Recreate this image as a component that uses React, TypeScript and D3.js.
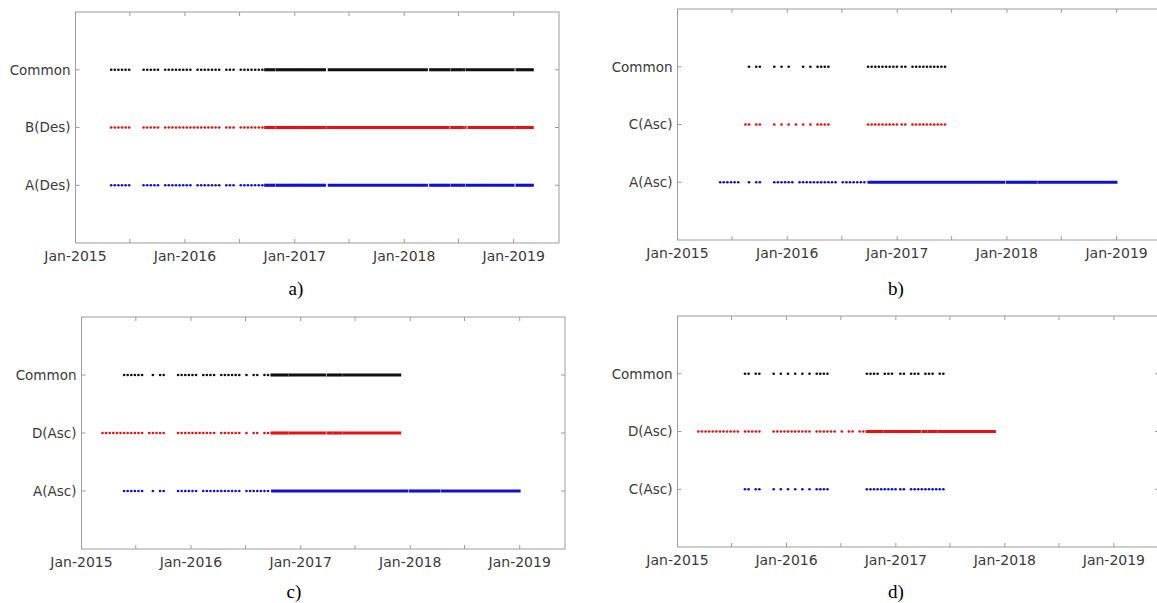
import * as d3 from "d3";
import React from "react";

// acquisition dates are stored as days counted from 1 Jan 2015
const startDate = new Date(2015, 0, 1);
const endDate = new Date(2019, 5, 1);

// descending track A (and the A/B common dates, which are the same)
const aDesDots = [
  119, 131, 143, 155, 167, 179,
  227, 239, 251, 263, 275,
  299, 311, 323, 335, 347, 359, 371, 383,
  407, 419, 431, 443, 455, 467, 479,
  503, 515, 527,
  551, 563, 575, 587, 599, 611, 623,
];
// dense periods (6-day repeat) that print as a solid bar: [first, last]
const aDesSpans = [
  [631, 665], [670, 743], [746, 833], [843, 1173], [1181, 1247],
  [1252, 1287], [1291, 1298], [1303, 1462], [1469, 1526],
];
const commonABDots = aDesDots;
const commonABSpans = aDesSpans;

const bDesDots = [
  119, 131, 143, 155, 167, 179,
  227, 239, 251, 263, 275,
  299, 311, 323, 335, 347, 359, 371, 383, 395, 407, 419, 431, 443, 455, 467, 479,
  503, 515, 527,
  551, 563, 575, 587, 599, 611, 623,
];
const bDesSpans = [
  [631, 665], [670, 743], [746, 833], [838, 1245], [1251, 1293],
  [1298, 1302], [1309, 1465], [1469, 1526],
];

// ascending tracks
const aAscDots = [
  142, 154, 166, 178, 190, 202,
  238,
  262, 274,
  322, 334, 346, 358, 370, 382,
  406, 418, 430, 442, 454, 466, 478, 490, 502, 514, 526,
  550, 562, 574, 586, 598, 610, 622,
];
const aAscSpans = [[634, 1088], [1094, 1194], [1199, 1462]];

const cAscDots = [
  226, 238, 262, 274,
  322, 346, 370, 394, 418, 442,
  466, 478, 490, 502,
  634, 646, 658, 670, 682, 694, 706, 718, 730,
  746, 758,
  782, 794, 806, 818, 830, 842, 854, 866, 878, 890,
];

const dAscDots = [
  70, 82, 94, 106, 118, 130, 142, 154, 166, 178, 190, 202,
  226, 238, 250, 262, 274,
  322, 334, 346, 358, 370, 382, 394, 406, 418, 430, 442,
  466, 478, 490, 502, 514, 526,
  550, 574, 586, 610, 622,
];
const dAscSpans = [[632, 688], [692, 814], [820, 834], [838, 868], [872, 1064]];

const commonACDots = [
  238, 262, 274,
  322, 346, 370, 418, 442,
  466, 478, 490, 502,
  634, 646, 658, 670, 682, 694, 706, 718, 730,
  746, 758,
  782, 794, 806, 818, 830, 842, 854, 866, 878, 890,
];

const commonADDots = [
  142, 154, 166, 178, 190, 202,
  238, 262, 274,
  322, 334, 346, 358, 370, 382,
  406, 418, 430, 442,
  466, 478, 490, 502, 514, 526,
  550, 574, 586, 610, 622,
];
const commonADSpans = [[632, 688], [692, 814], [820, 868], [872, 1064]];

const commonCDDots = [
  226, 238, 262, 274,
  322, 346, 370, 394, 418, 442,
  466, 478, 490, 502,
  634, 646, 658, 670, 694, 706, 718,
  746, 758,
  782, 794, 806, 830, 842, 854, 878, 890,
];

const BLUE = "#1010d4";
const RED = "#e61212";
const BLACK = "#111";

// rows listed bottom to top
const panels = [
  {
    caption: "a)",
    labels: ["A(Des)", "B(Des)", "Common"],
    series: [
      { dots: aDesDots, spans: aDesSpans, color: BLUE },
      { dots: bDesDots, spans: bDesSpans, color: RED },
      { dots: commonABDots, spans: commonABSpans, color: BLACK },
    ],
    box: { left: 75.5, right: 559, top: 12, bottom: 243 },
    cap: [296, 295],
  },
  {
    caption: "b)",
    labels: ["A(Asc)", "C(Asc)", "Common"],
    series: [
      { dots: aAscDots, spans: aAscSpans, color: BLUE },
      { dots: cAscDots, spans: [], color: RED },
      { dots: commonACDots, spans: [], color: BLACK },
    ],
    box: { left: 677.5, right: 1162, top: 9, bottom: 240 },
    cap: [896, 295],
  },
  {
    caption: "c)",
    labels: ["A(Asc)", "D(Asc)", "Common"],
    series: [
      { dots: aAscDots, spans: aAscSpans, color: BLUE },
      { dots: dAscDots, spans: dAscSpans, color: RED },
      { dots: commonADDots, spans: commonADSpans, color: BLACK },
    ],
    box: { left: 81.5, right: 565, top: 317, bottom: 549 },
    cap: [294, 598],
  },
  {
    caption: "d)",
    labels: ["C(Asc)", "D(Asc)", "Common"],
    series: [
      { dots: cAscDots, spans: [], color: BLUE },
      { dots: dAscDots, spans: dAscSpans, color: RED },
      { dots: commonCDDots, spans: [], color: BLACK },
    ],
    box: { left: 677.5, right: 1159, top: 316, bottom: 547 },
    cap: [896, 598],
  },
];

const day = (d: number) => d3.timeDay.offset(startDate, d);
const fmt = d3.timeFormat("%b-%Y");

function Panel(props: any) {
  let { box, labels, series, caption, cap } = props;
  let x = d3.scaleTime().domain([startDate, endDate]).range([box.left, box.right]);
  let y = d3.scaleLinear().domain([0, 4]).range([box.bottom, box.top]);
  let ticks = x.ticks(d3.timeMonth.every(6) as any);
  let axisColor = "#9c9c9c";
  let r = 1.35;

  return (
    <g>
      <rect x={box.left} y={box.top} width={box.right - box.left} height={box.bottom - box.top}
        fill="none" stroke={axisColor} strokeWidth={1} />
      {ticks.map((t, i) => (
        <g key={"t" + i}>
          <line x1={x(t)} x2={x(t)} y1={box.bottom} y2={box.bottom - 4} stroke={axisColor} />
          <line x1={x(t)} x2={x(t)} y1={box.top} y2={box.top + 4} stroke={axisColor} />
          {t.getMonth() === 0 ?
            <text x={x(t)} y={box.bottom + 18} textAnchor="middle" fontSize={14}
              fontFamily="DejaVu Sans" fill="#3a3a3a">{fmt(t)}</text> : null}
        </g>
      ))}
      {labels.map((l: string, i: number) => (
        <g key={"y" + i}>
          <line x1={box.left} x2={box.left + 4} y1={y(i + 1)} y2={y(i + 1)} stroke={axisColor} />
          <line x1={box.right} x2={box.right - 4} y1={y(i + 1)} y2={y(i + 1)} stroke={axisColor} />
          <text x={box.left - 5} y={y(i + 1)} dy="0.36em" textAnchor="end" fontSize={13.5}
            fontFamily="DejaVu Sans" fill="#3a3a3a">{l}</text>
        </g>
      ))}
      {series.map((s: any, i: number) => (
        <g key={"s" + i}>
          {s.spans.map((sp: number[], j: number) => (
            <line key={j} x1={x(day(sp[0])) - 0.6} x2={x(day(sp[1])) + 0.6} y1={y(i + 1)} y2={y(i + 1)}
              stroke={s.color} strokeWidth={3.1} />
          ))}
          {s.dots.map((d: number, j: number) => (
            <circle key={j} cx={x(day(d))} cy={y(i + 1)} r={r} fill={s.color} />
          ))}
        </g>
      ))}
      <text x={cap[0]} y={cap[1]} textAnchor="middle" fontSize={19}
        fontFamily="Liberation Serif" fill="#000">{caption}</text>
    </g>
  );
}

export default function App() {
  return (
    <svg width={1157} height={603} style={{ position: "absolute", left: 0, top: 0, background: "#fff" }}>
      {panels.map((p, i) => <Panel key={i} {...p} />)}
    </svg>
  );
}
